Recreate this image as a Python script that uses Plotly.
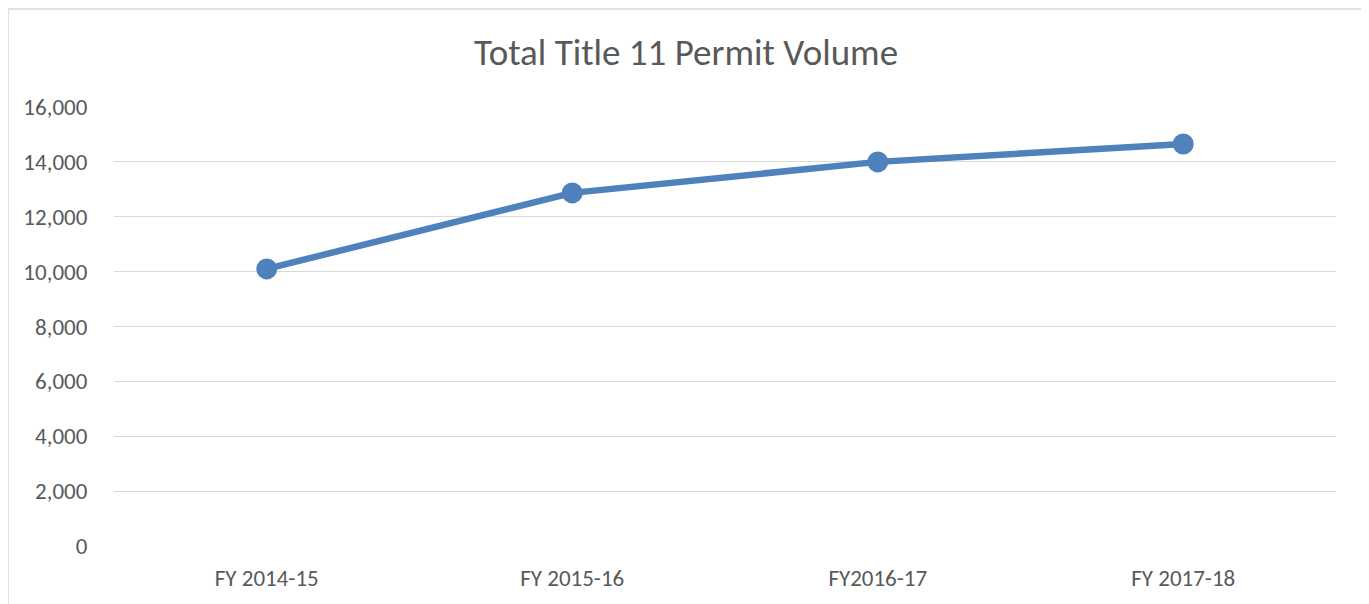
import plotly.graph_objects as go

categories = ["FY 2014-15", "FY 2015-16", "FY2016-17", "FY 2017-18"]
permits = [10100, 12870, 14000, 14650]
y_ticks = [0, 2000, 4000, 6000, 8000, 10000, 12000, 14000, 16000]

text_color = "#595959"
font_family = "Carlito, Calibri, Lato, sans-serif"

fig = go.Figure()
fig.add_trace(go.Scatter(
    x=categories, y=permits, mode="lines+markers",
    line=dict(color="#4f81bd", width=6.5),
    marker=dict(color="#4f81bd", size=21),
    showlegend=False,
))

# page is offset by 8px (body margin); plot area target in page px: x 114..1336, y 107..546
OFF = 8
W, H = 1369, 604
L, T = 114 - OFF, 107 - OFF
R = W - (1336 - OFF)
B = H - (546 - OFF)
pw, ph = W - L - R, H - T - B

fig.update_layout(
    width=W, height=H,
    margin=dict(l=L, r=R, t=T, b=B),
    paper_bgcolor="white", plot_bgcolor="white",
    font=dict(family=font_family, color=text_color, size=23),
    title=dict(text="Total Title 11 Permit Volume", x=(686 - OFF) / W, xanchor="center",
               y=1 - (52 - OFF) / H, yanchor="middle", yref="container",
               font=dict(size=37, color=text_color, family=font_family)),
    xaxis=dict(type="category", range=[-0.5, 3.5], showgrid=False, zeroline=False,
               showline=False, ticks="outside", ticklen=11, tickcolor="rgba(0,0,0,0)",
               tickfont=dict(size=23, color=text_color)),
    yaxis=dict(range=[0, 16000], tickvals=y_ticks, tickformat=",d",
               showgrid=True, gridcolor="#d9d9d9", gridwidth=1.3, zeroline=False,
               showline=False, ticks="outside", ticklen=21, tickcolor="rgba(0,0,0,0)",
               tickfont=dict(size=23, color=text_color)),
    shapes=[dict(type="rect", xref="paper", yref="paper",
                 x0=(8 - 114) / pw, x1=(1366 - 114) / pw,
                 y0=-0.3, y1=(546 - 9) / ph,
                 line=dict(color="#d9d9d9", width=1.5), layer="below")],
)

fig.write_html("out.html")
